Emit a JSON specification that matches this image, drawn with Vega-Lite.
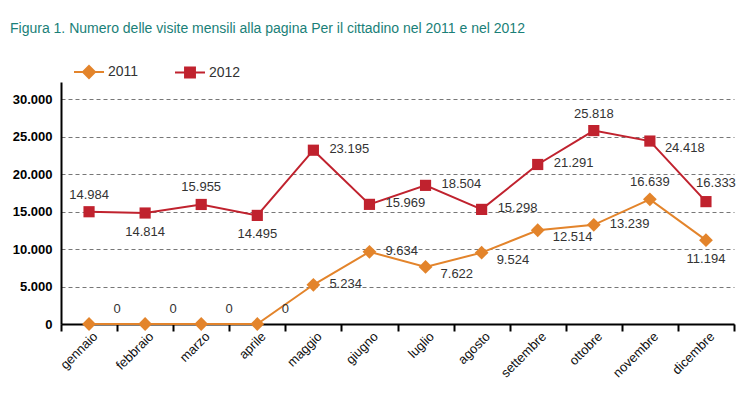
{
  "$schema": "https://vega.github.io/schema/vega-lite/v6.json",
  "width": 673,
  "height": 242,
  "autosize": {"type": "none"},
  "padding": {"left": 61, "top": 82, "right": 16, "bottom": 74},
  "background": "white",
  "title": {
    "text": "Figura 1. Numero delle visite mensili alla pagina Per il cittadino nel 2011 e nel 2012",
    "anchor": "start",
    "frame": "group",
    "dx": -51,
    "offset": 20,
    "font": "Liberation Sans",
    "fontSize": 14,
    "fontWeight": "normal",
    "color": "#1a7f78"
  },
  "config": {
    "view": {"stroke": null},
    "font": "Liberation Sans",
    "locale": {"number": {"decimal": ",", "thousands": ".", "grouping": [3], "currency": ["€", ""]}}
  },
  "data": {
    "values": [
      {"mese": "gennaio", "anno": "2011", "visite": 0},
      {"mese": "febbraio", "anno": "2011", "visite": 0},
      {"mese": "marzo", "anno": "2011", "visite": 0},
      {"mese": "aprile", "anno": "2011", "visite": 0},
      {"mese": "maggio", "anno": "2011", "visite": 5234},
      {"mese": "giugno", "anno": "2011", "visite": 9634},
      {"mese": "luglio", "anno": "2011", "visite": 7622},
      {"mese": "agosto", "anno": "2011", "visite": 9524},
      {"mese": "settembre", "anno": "2011", "visite": 12514},
      {"mese": "ottobre", "anno": "2011", "visite": 13239},
      {"mese": "novembre", "anno": "2011", "visite": 16639},
      {"mese": "dicembre", "anno": "2011", "visite": 11194},
      {"mese": "gennaio", "anno": "2012", "visite": 14984},
      {"mese": "febbraio", "anno": "2012", "visite": 14814},
      {"mese": "marzo", "anno": "2012", "visite": 15955},
      {"mese": "aprile", "anno": "2012", "visite": 14495},
      {"mese": "maggio", "anno": "2012", "visite": 23195},
      {"mese": "giugno", "anno": "2012", "visite": 15969},
      {"mese": "luglio", "anno": "2012", "visite": 18504},
      {"mese": "agosto", "anno": "2012", "visite": 15298},
      {"mese": "settembre", "anno": "2012", "visite": 21291},
      {"mese": "ottobre", "anno": "2012", "visite": 25818},
      {"mese": "novembre", "anno": "2012", "visite": 24418},
      {"mese": "dicembre", "anno": "2012", "visite": 16333}
    ]
  },
  "encoding": {
    "x": {
      "field": "mese",
      "type": "nominal",
      "sort": ["gennaio", "febbraio", "marzo", "aprile", "maggio", "giugno", "luglio", "agosto", "settembre", "ottobre", "novembre", "dicembre"],
      "scale": {"type": "band", "paddingInner": 0, "paddingOuter": 0},
      "axis": {
        "title": null,
        "labelAngle": -45,
        "labelAlign": "right",
        "labelBaseline": "middle",
        "labelOffset": 6,
        "labelPadding": 3,
        "tickBand": "extent",
        "tickSize": 7,
        "tickWidth": 2,
        "tickColor": "#000",
        "domainColor": "#000",
        "domainWidth": 2,
        "grid": false,
        "labelFontSize": 13,
        "labelColor": "#111"
      }
    },
    "y": {
      "field": "visite",
      "type": "quantitative",
      "scale": {"domain": [0, 32300], "nice": false, "zero": true},
      "axis": {
        "title": null,
        "values": [0, 5000, 10000, 15000, 20000, 25000, 30000],
        "format": ",d",
        "grid": true,
        "gridDash": [4, 3],
        "gridColor": "#777",
        "gridWidth": 1,
        "ticks": false,
        "domainColor": "#000",
        "domainWidth": 2,
        "labelFontWeight": "bold",
        "labelFontSize": 13,
        "labelColor": "#000",
        "labelPadding": 9
      }
    }
  },
  "layer": [
    {
      "transform": [{"filter": "datum.anno=='2011'"}],
      "mark": {"type": "line", "strokeWidth": 2, "color": "#e3842b"},
      "encoding": {}
    },
    {
      "transform": [{"filter": "datum.anno=='2012'"}],
      "mark": {"type": "line", "strokeWidth": 2, "color": "#c0222e"},
      "encoding": {}
    },
    {
      "transform": [{"filter": "datum.anno=='2011'"}],
      "mark": {"type": "point", "filled": true, "opacity": 1, "shape": "diamond", "size": 190, "color": "#e3842b"},
      "encoding": {}
    },
    {
      "transform": [{"filter": "datum.anno=='2012'"}],
      "mark": {"type": "point", "filled": true, "opacity": 1, "shape": "square", "size": 125, "color": "#c0222e"},
      "encoding": {}
    },
    {
      "transform": [{"filter": "datum.visite < 0"}],
      "mark": {"type": "point", "filled": true, "opacity": 1, "size": 900, "strokeWidth": 2},
      "encoding": {
        "color": {
          "field": "anno",
          "type": "nominal",
          "scale": {"domain": ["2011", "2012"], "range": ["#e3842b", "#c0222e"]},
          "legend": {
            "title": null,
            "orient": "none",
            "legendX": 12,
            "legendY": -26,
            "direction": "horizontal",
            "symbolSize": 900,
            "symbolStrokeWidth": 2,
            "symbolOpacity": 1,
            "labelFontSize": 14,
            "labelColor": "#333",
            "labelOffset": 3,
            "columnPadding": 32
          }
        },
        "stroke": {
          "field": "anno",
          "type": "nominal",
          "scale": {"domain": ["2011", "2012"], "range": ["#e3842b", "#c0222e"]},
          "legend": {
            "title": null,
            "orient": "none",
            "legendX": 12,
            "legendY": -26,
            "direction": "horizontal",
            "symbolSize": 900,
            "symbolStrokeWidth": 2,
            "symbolOpacity": 1,
            "labelFontSize": 14,
            "labelColor": "#333",
            "labelOffset": 3,
            "columnPadding": 32
          }
        },
        "shape": {
          "field": "anno",
          "type": "nominal",
          "scale": {"domain": ["2011", "2012"], "range": ["M-1,0H1M0,-0.4L0.4,0L0,0.4L-0.4,0Z", "M-1,0H1M-0.33,-0.33H0.33V0.33H-0.33Z"]},
          "legend": {
            "title": null,
            "orient": "none",
            "legendX": 12,
            "legendY": -26,
            "direction": "horizontal",
            "symbolSize": 900,
            "symbolStrokeWidth": 2,
            "symbolOpacity": 1,
            "labelFontSize": 14,
            "labelColor": "#333",
            "labelOffset": 3,
            "columnPadding": 32
          }
        }
      }
    },
    {
      "transform": [{"filter": "(datum.anno=='2012' && indexof(['gennaio','marzo','ottobre'], datum.mese)>=0) || (datum.anno=='2011' && datum.mese=='novembre')"}],
      "mark": {"type": "text", "dy": -17, "align": "center", "baseline": "middle", "fontSize": 13, "color": "#333"},
      "encoding": {"text": {"field": "visite", "type": "quantitative", "format": ",d"}}
    },
    {
      "transform": [{"filter": "datum.anno=='2012' && datum.mese=='dicembre'"}],
      "mark": {"type": "text", "dx": 10, "dy": -19, "align": "center", "baseline": "middle", "fontSize": 13, "color": "#333"},
      "encoding": {"text": {"field": "visite", "type": "quantitative", "format": ",d"}}
    },
    {
      "transform": [{"filter": "(datum.anno=='2012' && indexof(['febbraio','aprile'], datum.mese)>=0) || (datum.anno=='2011' && datum.mese=='dicembre')"}],
      "mark": {"type": "text", "dy": 19, "align": "center", "baseline": "middle", "fontSize": 13, "color": "#333"},
      "encoding": {"text": {"field": "visite", "type": "quantitative", "format": ",d"}}
    },
    {
      "transform": [{"filter": "(datum.anno=='2012' && indexof(['maggio','giugno','luglio','agosto','settembre'], datum.mese)>=0) || (datum.anno=='2011' && indexof(['maggio','giugno','ottobre'], datum.mese)>=0)"}],
      "mark": {"type": "text", "dx": 16, "dy": -1, "align": "left", "baseline": "middle", "fontSize": 13, "color": "#333"},
      "encoding": {"text": {"field": "visite", "type": "quantitative", "format": ",d"}}
    },
    {
      "transform": [{"filter": "(datum.anno=='2012' && datum.mese=='novembre') || (datum.anno=='2011' && indexof(['luglio','agosto','settembre'], datum.mese)>=0)"}],
      "mark": {"type": "text", "dx": 15, "dy": 7, "align": "left", "baseline": "middle", "fontSize": 13, "color": "#333"},
      "encoding": {"text": {"field": "visite", "type": "quantitative", "format": ",d"}}
    },
    {
      "transform": [{"filter": "datum.anno=='2011' && datum.visite==0"}],
      "mark": {"type": "text", "dx": 28, "dy": -15, "align": "center", "baseline": "middle", "fontSize": 13, "color": "#333"},
      "encoding": {"text": {"field": "visite", "type": "quantitative", "format": ",d"}}
    }
  ]
}
